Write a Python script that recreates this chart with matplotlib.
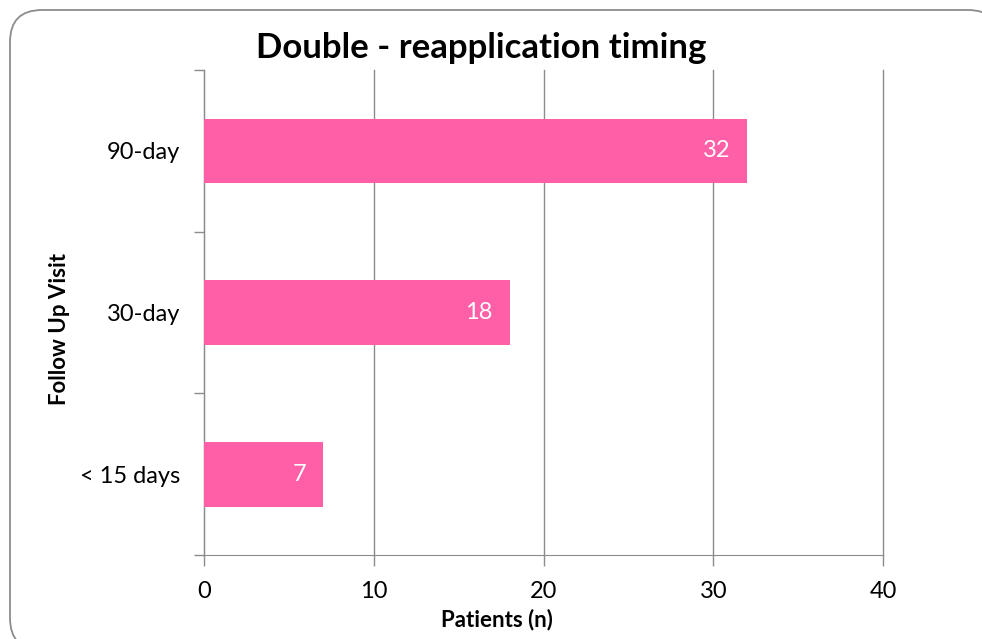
import matplotlib.pyplot as plt
from matplotlib.patches import FancyBboxPatch

# Follow-up visit categories, bottom to top
visits = ["< 15 days", "30-day", "90-day"]
patients = [7, 18, 32]
x_ticks = [0, 10, 20, 30, 40]

bar_colour = "#FF5FA6"
grid_colour = "#8C8C8C"

plt.rcParams["font.family"] = ["Lato", "DejaVu Sans"]

fig = plt.figure(figsize=(9.82, 6.39), dpi=100)

# background layer in pixel units for the rounded chart frame
bg = fig.add_axes([0, 0, 1, 1])
bg.set_xlim(0, 982)
bg.set_ylim(639, 0)
bg.axis("off")
frame = FancyBboxPatch((10, 10), 990, 640,
                       boxstyle="round,pad=0,rounding_size=32",
                       facecolor="white", edgecolor="#8C8C8C", linewidth=1.3)
bg.add_patch(frame)

ax = fig.add_axes([204 / 982, 1 - 555 / 639, (883 - 204) / 982, (555 - 70) / 639])
ax.set_facecolor("none")

pos = list(range(len(visits)))
ax.barh(pos, patients, height=0.4, color=bar_colour, zorder=3)

for i, v in enumerate(patients):
    ax.annotate(str(v), (v, i), xytext=(-12, 0), textcoords="offset points",
                ha="right", va="center", color="white", fontsize=17, zorder=4)

ax.set_xlim(0, 40)
ax.set_ylim(-0.5, len(visits) - 0.5)
ax.set_xticks(x_ticks)
ax.set_xticklabels([str(t) for t in x_ticks], fontsize=17)
ax.grid(axis="x", color=grid_colour, linewidth=1.0, zorder=1)
for gl in ax.get_xgridlines():
    gl.set_clip_on(False)

# category labels sit between the boundary ticks
ax.set_yticks([-0.5, 0.5, 1.5, 2.5])
ax.set_yticklabels([])
ax.set_yticks(pos, minor=True)
ax.set_yticklabels(visits, minor=True, fontsize=17)
ax.tick_params(axis="y", which="minor", length=0, pad=17)
ax.tick_params(axis="y", which="major", length=7, color=grid_colour, width=1.0)
ax.tick_params(axis="x", length=8, color=grid_colour, width=1.0, pad=11)

for side in ["top", "right"]:
    ax.spines[side].set_visible(False)
ax.spines["left"].set_color(grid_colour)
ax.spines["bottom"].set_color(grid_colour)

fig.text(481 / 982, 1 - 48 / 639, "Double - reapplication timing",
         ha="center", va="center", fontsize=25, fontweight="bold")
fig.text(497 / 982, 1 - 620 / 639, "Patients (n)",
         ha="center", va="center", fontsize=16, fontweight="bold")
fig.text(60 / 982, 1 - 329 / 639, "Follow Up Visit", rotation=90,
         ha="center", va="center", fontsize=16, fontweight="bold")

fig.savefig("out.png", dpi=100)
